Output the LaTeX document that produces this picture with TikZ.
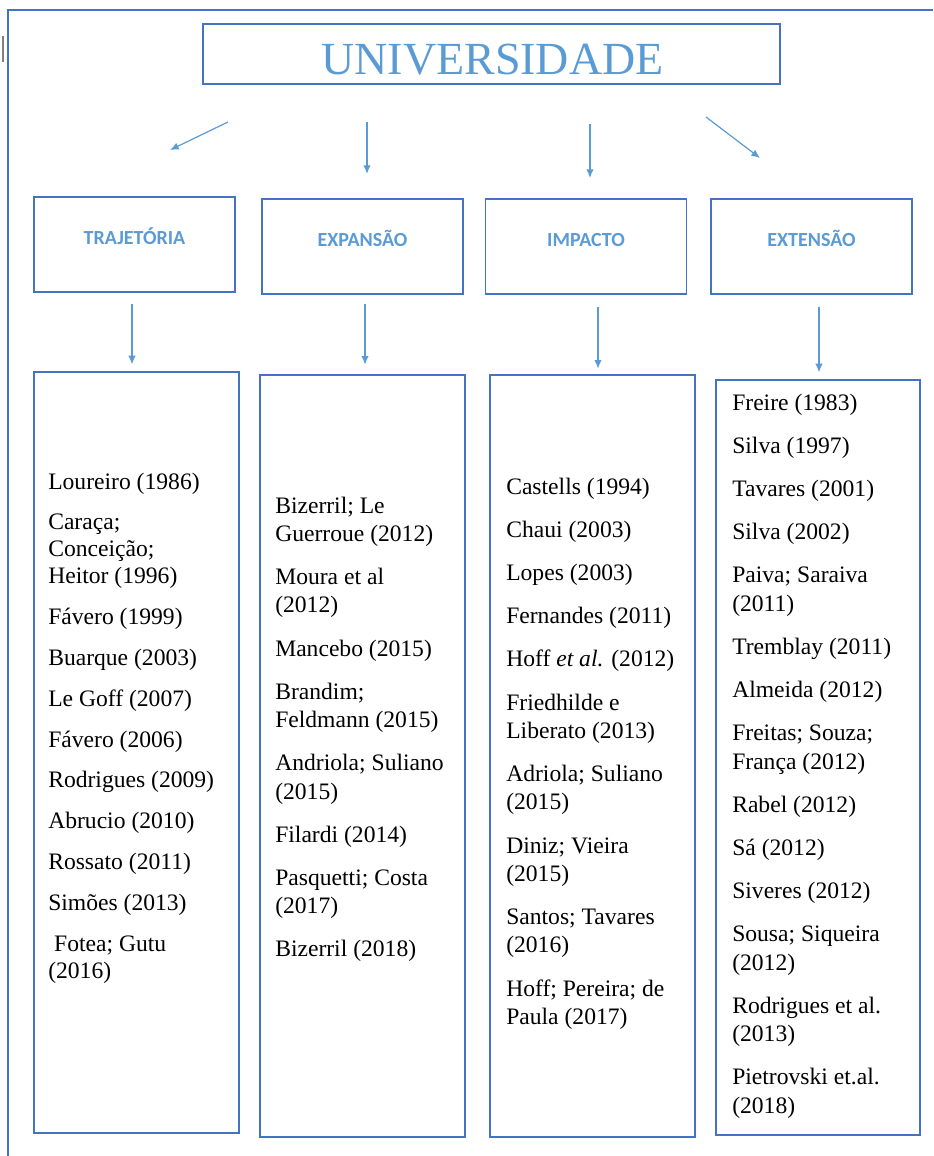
\documentclass[tikz,border=0pt]{standalone}
\usepackage{fontspec}
\setmainfont{Liberation Serif}
\newfontfamily\calib{Carlito}
\usetikzlibrary{arrows.meta}
\definecolor{boxblue}{RGB}{68,114,196}
\definecolor{lightblue}{RGB}{91,155,213}

\begin{document}
\begin{tikzpicture}[x=0.75pt,y=-0.75pt,
  >={Latex[length=6.5pt,width=5.5pt]},
  frame/.style={draw=boxblue,line width=1.4pt,inner sep=0pt},
  headbox/.style={frame,minimum width=150.75pt,minimum height=71.25pt},
  listbox/.style={frame,minimum width=153.75pt},
  headtext/.style={font=\calib\bfseries\fontsize{15}{18}\selectfont,text=lightblue,
    inner sep=0pt,text height=9.7pt,text depth=0pt},
  refs/.style={anchor=north west,align=left,inner sep=0pt},
  arr/.style={->,draw=lightblue,line width=0.9pt}]
\useasboundingbox (0,0) rectangle (933,1156);

% page border
\draw[boxblue,line width=1.4pt] (933,10) -- (8,10) -- (8,1156);
\draw[gray,line width=0.8pt] (3,36) -- (3,62);

% title
\node[frame,minimum width=432.75pt,minimum height=45pt] (univ) at (491.5,54) {};
\node[inner sep=0pt,text=lightblue,font=\fontsize{34.5}{38}\selectfont] (univtxt) at (492.5,59.5) {UNIVERSIDADE};

% free arrows under the title
\coordinate (s1) at (228,122); \coordinate (e1) at (170,150);
\coordinate (s2) at (367,122); \coordinate (e2) at (367,174);
\coordinate (s3) at (590,124); \coordinate (e3) at (590,178);
\coordinate (s4) at (706,117); \coordinate (e4) at (760,158);
\draw[arr] (s1) -- (e1);
\draw[arr] (s2) -- (e2);
\draw[arr] (s3) -- (e3);
\draw[arr] (s4) -- (e4);

% themes
\node[headbox] (traj) at (134.5,244.5) {};
\node[headbox] (expa) at (362.5,246.5) {};
\node[headbox] (impa) at (586,246.5) {};
\node[headbox] (exte) at (811.5,246.5) {};
\node[headtext] (trajtxt) at ([yshift=4.9pt]traj.center) {TRAJETÓRIA};
\node[headtext] (expatxt) at ([yshift=4.9pt]expa.center) {EXPANSÃO};
\node[headtext] (impatxt) at ([yshift=4.9pt]impa.center) {IMPACTO};
\node[headtext] (extetxt) at ([yshift=4.9pt]exte.center) {EXTENSÃO};

% reference lists
\node[listbox,minimum height=570.75pt] (list1) at (136.5,752.5) {};
\node[listbox,minimum height=571.5pt] (list2) at (362.5,756) {};
\node[listbox,minimum height=571.5pt] (list3) at (592.5,756) {};
\node[listbox,minimum height=566.25pt,minimum width=153pt] (list4) at (818,757.5) {};

\draw[arr,shorten <=8pt,shorten >=5pt] (traj.south -| 132,0) -- (list1.north -| 132,0);
\draw[arr,shorten <=7pt,shorten >=7pt] (expa.south -| 365,0) -- (list2.north -| 365,0);
\draw[arr,shorten <=9pt,shorten >=4pt] (impa.south -| 598,0) -- (list3.north -| 598,0);
\draw[arr,shorten <=9pt,shorten >=5pt] (exte.south -| 819,0) -- (list4.north -| 819,0);

\node[refs,font=\fontsize{17.7}{20.25}\selectfont] (refs1) at (48,472.5) {%
Loureiro (1986)\\[10.35pt]
Caraça;\\ Conceição;\\ Heitor (1996)\\[10.35pt]
Fávero (1999)\\[10.35pt]
Buarque (2003)\\[10.35pt]
Le Goff (2007)\\[10.35pt]
Fávero (2006)\\[10.35pt]
Rodrigues (2009)\\[10.35pt]
Abrucio (2010)\\[10.35pt]
Rossato (2011)\\[10.35pt]
Simões (2013)\\[10.35pt]
\ Fotea; Gutu\\ (2016)};

\node[refs,font=\fontsize{17.7}{21.2}\selectfont] (refs2) at (275,496.5) {%
Bizerril; Le\\ Guerroue (2012)\\[11.2pt]
Moura et al\\ (2012)\\[11.2pt]
Mancebo (2015)\\[11.2pt]
Brandim;\\ Feldmann (2015)\\[11.2pt]
Andriola; Suliano\\ (2015)\\[11.2pt]
Filardi (2014)\\[11.2pt]
Pasquetti; Costa\\ (2017)\\[11.2pt]
Bizerril (2018)};

\node[refs,font=\fontsize{17.7}{21.2}\selectfont] (refs3) at (506,477.5) {%
Castells (1994)\\[11.2pt]
Chaui (2003)\\[11.2pt]
Lopes (2003)\\[11.2pt]
Fernandes (2011)\\[11.2pt]
Hoff \textit{et al.} (2012)\\[11.2pt]
Friedhilde e\\ Liberato (2013)\\[11.2pt]
Adriola; Suliano\\ (2015)\\[11.2pt]
Diniz; Vieira\\ (2015)\\[11.2pt]
Santos; Tavares\\ (2016)\\[11.2pt]
Hoff; Pereira; de\\ Paula (2017)};

\node[refs,font=\fontsize{17.7}{21.2}\selectfont] (refs4) at (732,393.5) {%
Freire (1983)\\[11.2pt]
Silva (1997)\\[11.2pt]
Tavares (2001)\\[11.2pt]
Silva (2002)\\[11.2pt]
Paiva; Saraiva\\ (2011)\\[11.2pt]
Tremblay (2011)\\[11.2pt]
Almeida (2012)\\[11.2pt]
Freitas; Souza;\\ França (2012)\\[11.2pt]
Rabel (2012)\\[11.2pt]
Sá (2012)\\[11.2pt]
Siveres (2012)\\[11.2pt]
Sousa; Siqueira\\ (2012)\\[11.2pt]
Rodrigues et al.\\ (2013)\\[11.2pt]
Pietrovski et.al.\\ (2018)};
\end{tikzpicture}
\end{document}
